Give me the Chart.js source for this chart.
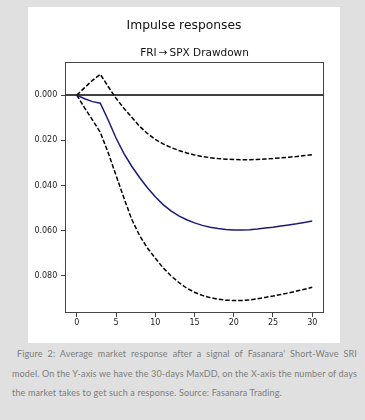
<!DOCTYPE html>
<html>
<head>
<meta charset="utf-8">
<script src="https://cdn.jsdelivr.net/npm/chart.js@4.4.1/dist/chart.umd.min.js"></script>
<style>
  html, body { margin: 0; padding: 0; }
  body { width: 365px; height: 420px; background: #e0e0e0; position: relative; overflow: hidden; }
  #panel { position: absolute; left: 28px; top: 7px; width: 312px; height: 336px; background: #ffffff; }
  #caption { position: absolute; left: 12px; top: 344px; width: 345px; font-family: Lato, "Open Sans", sans-serif;
             font-size: 9px; line-height: 19.5px; color: #7d7d7d; letter-spacing: 0.15px; }
  #caption .j { text-align: justify; text-align-last: justify; white-space: nowrap; }
  #caption .first { padding-left: 5px; }
</style>
</head>
<body>
<div id="panel"><canvas id="c"></canvas></div>
<div id="caption">
  <div class="j first">Figure 2: Average market response after a signal of Fasanara' Short-Wave SRI</div>
  <div class="j">model. On the Y-axis we have the 30-days MaxDD, on the X-axis the number of days</div>
  <div>the market takes to get such a response. Source: Fasanara Trading.</div>
</div>
<script>
const days = [0,1,2,3,4,5,6,7,8,9,10,11,12,13,14,15,16,17,18,19,20,21,22,23,24,25,26,27,28,29,30];
const response = [0, 0.0016, 0.0029, 0.0036, 0.0110, 0.0190, 0.0258, 0.0315, 0.0365, 0.0410, 0.0450, 0.0485, 0.0513, 0.0535, 0.0552, 0.0566, 0.0577, 0.0585, 0.0591, 0.0595, 0.0597, 0.0597, 0.0596, 0.0593, 0.0589, 0.0585, 0.0580, 0.0575, 0.0570, 0.0564, 0.0558];
const upperBand = [0, -0.0033, -0.0065, -0.0092, -0.0038, 0.0014, 0.0058, 0.0098, 0.0138, 0.0170, 0.0196, 0.0216, 0.0232, 0.0245, 0.0256, 0.0265, 0.0272, 0.0277, 0.0281, 0.0284, 0.0285, 0.0286, 0.0286, 0.0285, 0.0283, 0.0281, 0.0278, 0.0275, 0.0272, 0.0268, 0.0264];
const lowerBand = [0, 0.0057, 0.0110, 0.0165, 0.0255, 0.0355, 0.0455, 0.0550, 0.0622, 0.0677, 0.0722, 0.0765, 0.0800, 0.0830, 0.0855, 0.0873, 0.0887, 0.0897, 0.0904, 0.0908, 0.0910, 0.0910, 0.0907, 0.0902, 0.0896, 0.0890, 0.0883, 0.0876, 0.0868, 0.0860, 0.0851];
const xTicks = [0, 5, 10, 15, 20, 25, 30];
const yTicks = [0.000, 0.020, 0.040, 0.060, 0.080];
const mainTitle = "Impulse responses";
const subTitle = "FRI\u2009\u2192\u2009SPX Drawdown";

const toPoints = arr => days.map((d, i) => ({ x: d, y: arr[i] }));

const framePlugin = {
  id: 'frame',
  beforeDatasetsDraw(chart) {
    const { ctx, chartArea: a, scales } = chart;
    const y0 = scales.y.getPixelForValue(0);
    ctx.save();
    ctx.strokeStyle = '#000000';
    ctx.lineWidth = 1.5;
    ctx.beginPath();
    ctx.moveTo(a.left, y0);
    ctx.lineTo(a.right, y0);
    ctx.stroke();
    ctx.restore();
  },
  afterDraw(chart) {
    const { ctx, chartArea: a } = chart;
    ctx.save();
    ctx.strokeStyle = '#444444';
    ctx.lineWidth = 1;
    ctx.strokeRect(Math.round(a.left) + 0.5, Math.round(a.top) + 0.5, Math.round(a.right - a.left) - 1, Math.round(a.bottom - a.top) - 1);
    ctx.restore();
  }
};

new Chart(document.getElementById('c'), {
  type: 'line',
  data: {
    datasets: [
      { data: toPoints(response), borderColor: '#1c1c78', borderWidth: 1.5, pointRadius: 0, tension: 0, fill: false },
      { data: toPoints(upperBand), borderColor: '#000000', borderWidth: 1.5, borderDash: [4.5, 2], pointRadius: 0, tension: 0, fill: false },
      { data: toPoints(lowerBand), borderColor: '#000000', borderWidth: 1.5, borderDash: [4.5, 2], pointRadius: 0, tension: 0, fill: false }
    ]
  },
  options: {
    responsive: true,
    maintainAspectRatio: false,
    animation: false,
    layout: { padding: 0 },
    plugins: {
      legend: { display: false },
      tooltip: { enabled: false },
      title: { display: true, text: mainTitle, color: '#111111', font: { family: 'DejaVu Sans', size: 12.3, weight: 'normal' }, padding: { top: 11.3, bottom: 7 } },
      subtitle: { display: true, fullSize: false, text: subTitle, color: '#111111', font: { family: 'DejaVu Sans', size: 10.5, weight: 'normal' }, padding: { top: 7, bottom: 2.7 } }
    },
    scales: {
      x: {
        type: 'linear', min: -1.5, max: 31.5,
        afterBuildTicks: s => { s.ticks = xTicks.map(v => ({ value: v })); },
        afterFit: s => { s.height = 30; },
        border: { display: false },
        grid: { display: true, drawOnChartArea: false, drawTicks: true, tickLength: 4, color: '#444444' },
        ticks: { color: '#222222', font: { family: 'DejaVu Sans', size: 8 }, padding: 1.5, maxRotation: 0, callback: v => String(v) }
      },
      y: {
        type: 'linear', reverse: true, min: -0.0145, max: 0.0965,
        afterBuildTicks: s => { s.ticks = yTicks.map(v => ({ value: v })); },
        afterFit: s => { s.width = 37; },
        border: { display: false },
        grid: { display: true, drawOnChartArea: false, drawTicks: true, tickLength: 4, color: '#444444' },
        ticks: { color: '#222222', font: { family: 'DejaVu Sans', size: 8 }, padding: 3.7, callback: v => Number(v).toFixed(3) }
      },
      yR: {
        type: 'linear', position: 'right', display: true,
        afterFit: s => { s.width = 16; },
        border: { display: false },
        grid: { display: false },
        ticks: { display: false }
      }
    }
  },
  plugins: [framePlugin]
});
</script>
</body>
</html>
